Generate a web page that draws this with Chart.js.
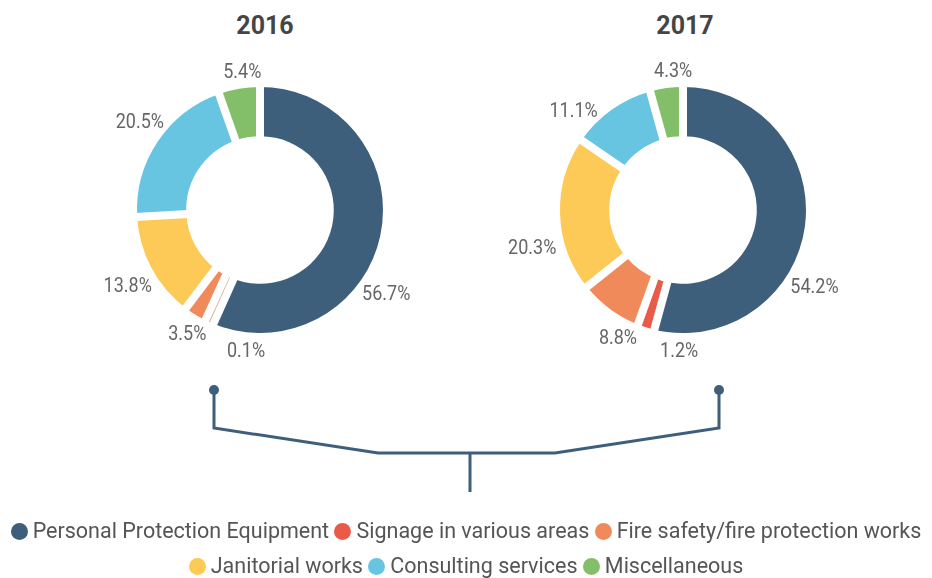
<!DOCTYPE html>
<html>
<head>
<meta charset="utf-8">
<script src="https://cdn.jsdelivr.net/npm/chart.js@4.4.0/dist/chart.umd.min.js"></script>
<style>
  body { margin: 0; background: #fff; width: 932px; height: 578px; position: relative; overflow: hidden; }
  .grafico { position: absolute; width: 440px; height: 360px; }
  .titulo { position: absolute; top: 11px; width: 200px; text-align: center;
    font: bold 25px Roboto, "DejaVu Sans Condensed", sans-serif; color: #454545; }
  .legenda { position: absolute; left: 0; width: 932px; text-align: center; white-space: nowrap;
    font: 21.5px Roboto, "DejaVu Sans", sans-serif; color: #555; }
  .legenda i { display: inline-block; width: 17px; height: 17px; border-radius: 50%; vertical-align: -2px; margin-right: 5px; }
  svg { position: absolute; left: 0; top: 0; }
</style>
</head>
<body>

<div class="titulo" style="left:165px">2016</div>
<div class="titulo" style="left:585px">2017</div>

<div class="grafico" style="left:40px; top:30px"><canvas id="chart1" width="440" height="360"></canvas></div>
<div class="grafico" style="left:463px; top:30px"><canvas id="chart2" width="440" height="360"></canvas></div>

<!-- conector entre os dois anos -->
<svg width="932" height="578">
  <g stroke="#3e5f7b" stroke-width="3" fill="none">
    <path d="M214 390 V428 L378 453 H555 L719 428 V390" />
    <path d="M470 453 V492" />
  </g>
  <circle cx="214" cy="390" r="5" fill="#3e5f7b" />
  <circle cx="719" cy="390" r="5" fill="#3e5f7b" />
</svg>

<div class="legenda" id="legenda1" style="top:518px"></div>
<div class="legenda" id="legenda2" style="top:553px"></div>

<script>
// DADOS DO GRÁFICO
const categorias = ['Personal Protection Equipment', 'Signage in various areas', 'Fire safety/fire protection works',
                    'Janitorial works', 'Consulting services', 'Miscellaneous'];
const valores2016 = [56.7, 0.1, 3.5, 13.8, 20.5, 5.4];
const valores2017 = [54.2, 1.2, 8.8, 20.3, 11.1, 4.3];
const cores = ['#3e5f7b', '#ea5a48', '#f08a5b', '#fdc957', '#67c5e1', '#83be69'];

// deslocamento (em graus) dos rótulos de porcentagem, como no original
const desvio2016 = [24, -19, -2, -4, 6, 3];
const desvio2017 = [25, -16, -10, -13, -9, 4];

// PLUGIN QUE ABRE OS VÃOS BRANCOS ENTRE AS FATIAS
const vaos = {
    id: 'vaos',
    afterDatasetsDraw (chart, args, opts) {
        const ctx = chart.ctx;
        const arcos = chart.getDatasetMeta(0).data;
        const w = opts.largura;
        ctx.save();
        ctx.strokeStyle = '#fff';
        ctx.lineWidth = w;
        arcos.forEach((arco, i) => {
            const p = arco.getProps(['x', 'y', 'startAngle', 'endAngle', 'innerRadius', 'outerRadius'], true);
            const ant = arcos[(i - 1 + arcos.length) % arcos.length].getProps(['startAngle', 'endAngle'], true);
            const rMedio = (p.innerRadius + p.outerRadius) / 2;
            const pequeno = a => (a.endAngle - a.startAngle) * rMedio < w * 1.5;
            // fatias muito finas: empurra o vão para a fatia vizinha
            let d = 0;
            if (pequeno(p)) d = -w / 2;
            else if (pequeno(ant)) d = w / 2;
            ctx.save();
            ctx.translate(p.x, p.y);
            ctx.rotate(p.startAngle);
            ctx.beginPath();
            ctx.moveTo(p.innerRadius - 2, d);
            ctx.lineTo(p.outerRadius + 2, d);
            ctx.stroke();
            ctx.restore();
        });
        ctx.restore();
    }
};

// PLUGIN QUE ESCREVE AS PORCENTAGENS FORA DA ROSCA
const rotulosFora = {
    id: 'rotulosFora',
    afterDatasetsDraw (chart, args, opts) {
        const ctx = chart.ctx;
        const meta = chart.getDatasetMeta(0);
        const valores = chart.data.datasets[0].data;
        ctx.save();
        ctx.font = opts.fonte;
        ctx.fillStyle = opts.cor;
        ctx.textAlign = 'center';
        ctx.textBaseline = 'middle';
        meta.data.forEach((arco, i) => {
            const p = arco.getProps(['x', 'y', 'startAngle', 'endAngle', 'outerRadius'], true);
            const ang = (p.startAngle + p.endAngle) / 2 + (opts.desvio[i] || 0) * Math.PI / 180;
            const texto = valores[i].toFixed(1) + '%';
            const larg = ctx.measureText(texto).width;
            const dist = p.outerRadius + opts.distancia;
            const x = p.x + Math.cos(ang) * (dist + larg / 2);
            const y = p.y + Math.sin(ang) * (dist + 8) + 2;
            // texto um pouco mais alto, parecido com a fonte condensada do original
            ctx.save();
            ctx.translate(x, y);
            ctx.scale(1, 1.15);
            ctx.fillText(texto, 0, 0);
            ctx.restore();
        });
        ctx.restore();
    }
};

function gerandoRosca (idGrafico, valores, desvio) {
    const data = {
        labels: categorias,
        datasets: [{
            data: valores,
            backgroundColor: cores,
            borderWidth: 0
        }]
    };

    const config = {
        type: 'doughnut',
        data: data,
        options: {
            responsive: false,
            animation: false,
            devicePixelRatio: 1,
            cutout: '60%',
            layout: { padding: { top: 57, bottom: 57, left: 97, right: 97 } },
            plugins: {
                legend: { display: false },
                tooltip: { enabled: false },
                vaos: { largura: 8 },
                rotulosFora: {
                    fonte: '18px Roboto, "DejaVu Sans Condensed", sans-serif',
                    cor: '#666',
                    distancia: 9,
                    desvio: desvio
                }
            }
        },
        plugins: [vaos, rotulosFora]
    };

    return new Chart(document.getElementById(idGrafico), config);
}

gerandoRosca('chart1', valores2016, desvio2016);
gerandoRosca('chart2', valores2017, desvio2017);

// LEGENDA EM DUAS LINHAS
function itemLegenda (i) {
    return '<span><i style="background:' + cores[i] + '"></i>' + categorias[i] + '</span>';
}
document.getElementById('legenda1').innerHTML = [0, 1, 2].map(itemLegenda).join(' ');
document.getElementById('legenda2').innerHTML = [3, 4, 5].map(itemLegenda).join(' ');
</script>
</body>
</html>
